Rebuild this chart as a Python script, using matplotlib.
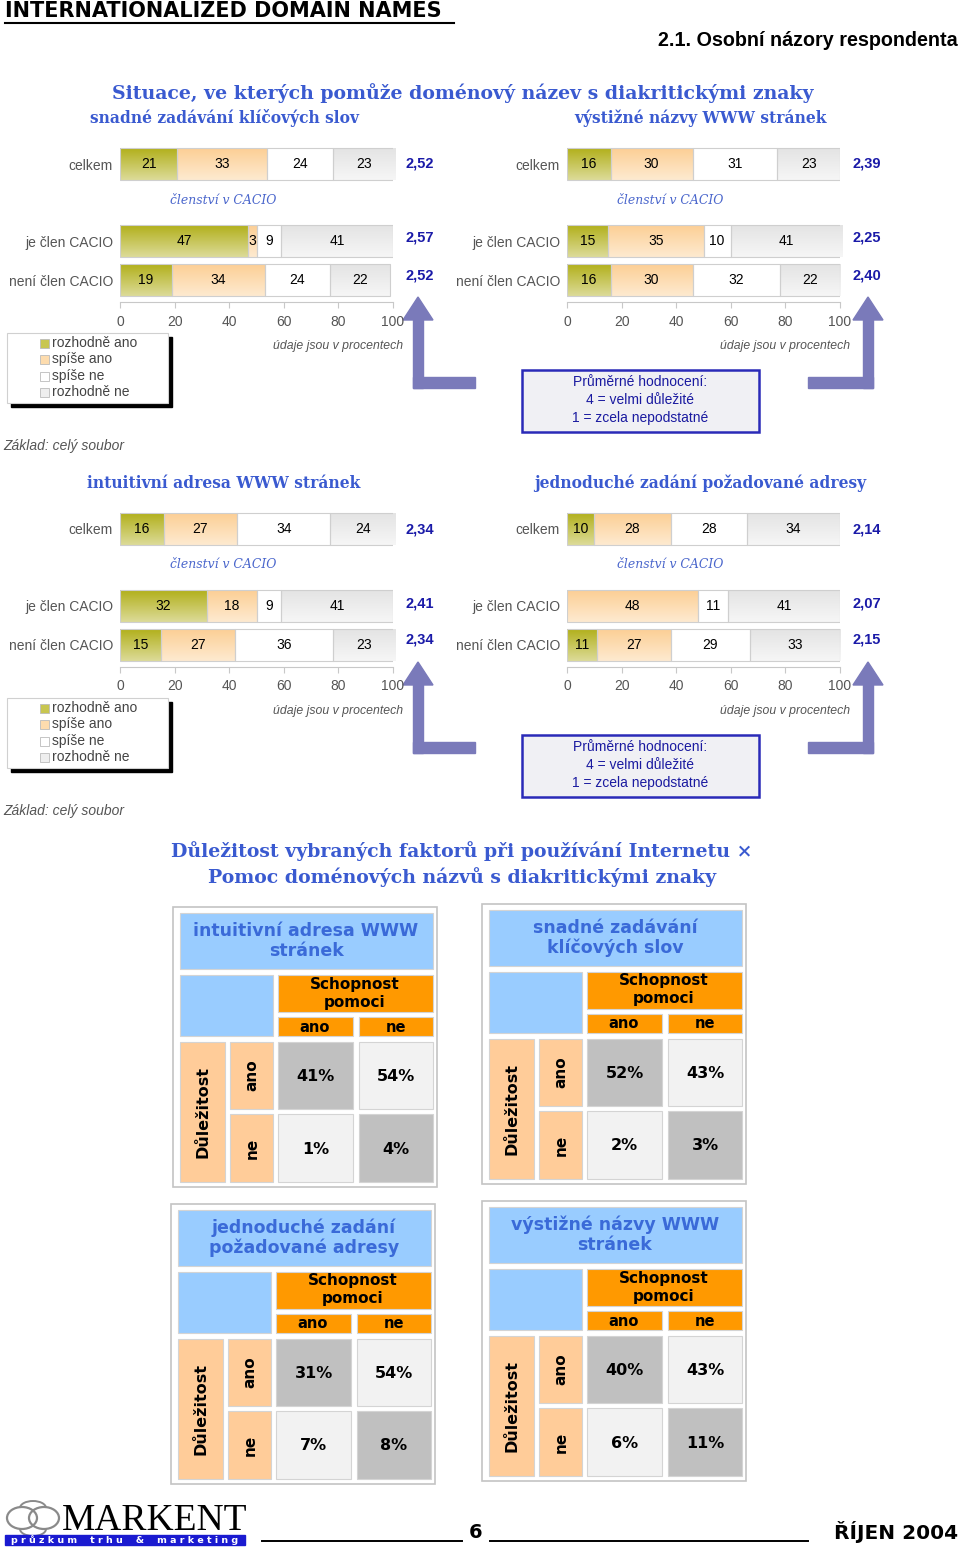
import numpy as np
import matplotlib
matplotlib.use("Agg")
import matplotlib.pyplot as plt
from matplotlib.patches import Rectangle, Polygon, Ellipse, Arc
from matplotlib.colors import LinearSegmentedColormap

# ---------------- data ----------------
categories = ["rozhodně ano", "spíše ano", "spíše ne", "rozhodně ne"]
row_labels = ["celkem", "je člen CACIO", "není člen CACIO"]

chart_titles = ["snadné zadávání klíčových slov", "výstižné názvy WWW stránek",
                "intuitivní adresa WWW stránek", "jednoduché zadání požadované adresy"]

snadne_celkem = [21, 33, 24, 23]
snadne_clen = [47, 3, 9, 41]
snadne_neclen = [19, 34, 24, 22]
snadne_means = ["2,52", "2,57", "2,52"]

vystizne_celkem = [16, 30, 31, 23]
vystizne_clen = [15, 35, 10, 41]
vystizne_neclen = [16, 30, 32, 22]
vystizne_means = ["2,39", "2,25", "2,40"]

intuitivni_celkem = [16, 27, 34, 24]
intuitivni_clen = [32, 18, 9, 41]
intuitivni_neclen = [15, 27, 36, 23]
intuitivni_means = ["2,34", "2,41", "2,34"]

jednoduche_celkem = [10, 28, 28, 34]
jednoduche_clen = [0, 48, 11, 41]
jednoduche_neclen = [11, 27, 29, 33]
jednoduche_means = ["2,14", "2,07", "2,15"]

xticks = [0, 20, 40, 60, 80, 100]

table_titles = [["intuitivní adresa WWW", "stránek"],
                ["snadné zadávání", "klíčových slov"],
                ["jednoduché zadání", "požadované adresy"],
                ["výstižné názvy WWW", "stránek"]]
# [ano/ano, ano/ne, ne/ano, ne/ne]
table_intuitivni = [41, 54, 1, 4]
table_snadne = [52, 43, 2, 3]
table_jednoduche = [31, 54, 7, 8]
table_vystizne = [40, 43, 6, 11]

# ---------------- setup ----------------
W, H = 960, 1552
fig = plt.figure(figsize=(W / 100, H / 100), dpi=100)
fig.patch.set_facecolor("white")
ov = fig.add_axes([0, 0, 1, 1])
ov.set_xlim(0, W)
ov.set_ylim(H, 0)
ov.axis("off")
ov.set_zorder(0)

SANS = "Liberation Sans"
VERD = "DejaVu Sans"
SERIF = "DejaVu Serif"
TITLE_BLUE = "#3a5ad0"
NAVY = "#1a1aa8"
GRAY = "#555555"


def px_axes(x0, y0, x1, y1):
    return fig.add_axes([x0 / W, 1 - y1 / H, (x1 - x0) / W, (y1 - y0) / H])


seg_grad = [("#b2b01c", "#dcdb98"), ("#fccf95", "#feead0"),
            ("#ffffff", "#ffffff"), ("#e4e4e4", "#f6f6f6")]
seg_color = ["#c8c650", "#fddcae", "#ffffff", "#eeeeee"]


def grad_fill(ax, patch, ctop, cbot):
    x, y = patch.get_x(), patch.get_y()
    w, h = patch.get_width(), patch.get_height()
    cmap = LinearSegmentedColormap.from_list("g", [ctop, cbot])
    arr = np.linspace(0, 1, 64).reshape(-1, 1)
    im = ax.imshow(arr, cmap=cmap, extent=(x, x + w, y + h, y), aspect="auto",
                   zorder=patch.get_zorder() - 0.05, interpolation="bilinear")
    im.set_clip_path(patch)


def bar_chart(x0, dy, rows, means, title, title_x):
    ROWY = [24, 101, 140]
    ax = px_axes(x0, 140 + dy, x0 + 273, 302 + dy)
    ax.set_zorder(2)
    ax.patch.set_alpha(0)
    left = np.zeros(3)
    for i in range(4):
        vals = np.array([r[i] for r in rows], dtype=float)
        bars = ax.barh(ROWY, vals, left=left, height=32, color=seg_color[i],
                       edgecolor="#cfcfcf", linewidth=0.8, zorder=3)
        for b, v in zip(bars, vals):
            if v <= 0:
                b.set_visible(False)
                continue
            b.set_facecolor("none")
            grad_fill(ax, b, *seg_grad[i])
            ax.text(b.get_x() + b.get_width() / 2, b.get_y() + b.get_height() / 2,
                    f"{int(v)}", ha="center", va="center", fontsize=10,
                    family=SANS, color="black", zorder=5)
        left += vals
    ax.set_xlim(0, 100)
    ax.set_ylim(162, 0)
    for s in ["top", "right", "left"]:
        ax.spines[s].set_visible(False)
    ax.spines["bottom"].set_color("#c8c8c8")
    ax.set_xticks(xticks)
    ax.set_xticklabels([str(t) for t in xticks], fontsize=10, family=SANS, color=GRAY)
    ax.tick_params(axis="x", colors="#c8c8c8", labelcolor=GRAY, length=4, pad=5)
    ax.set_yticks(ROWY)
    ax.set_yticklabels(row_labels, fontsize=10, family=SANS, color=GRAY)
    ax.tick_params(axis="y", length=0, pad=5)
    # means
    for yy, m in zip([164, 238, 275], means):
        ov.text(x0 + 300, yy + dy, m, ha="center", va="center", fontsize=10.5,
                family=SANS, weight="bold", color=NAVY)
    ov.text(title_x, 118 + dy, title, ha="center", va="center", fontsize=11.2,
            family=SERIF, weight="bold", color=TITLE_BLUE)
    ov.text(x0 + 103, 200 + dy, "členství v CACIO", ha="center", va="center",
            fontsize=8.9, family=SERIF, style="italic", color="#4a66cc")
    ov.text(x0 + 218, 346 + dy, "údaje jsou v procentech", ha="center", va="center",
            fontsize=8.8, family=SANS, style="italic", color=GRAY)


def arrow(shaft_x, arm_to, dy):
    col = "#7a7aba"
    sw = 10
    top = 297 + dy
    head_base = 320 + dy
    bottom = 388 + dy
    ov.add_patch(Polygon([[shaft_x - 10, head_base], [shaft_x + sw / 2, top],
                          [shaft_x + sw + 10, head_base]],
                         closed=True, color=col, zorder=3))
    ov.add_patch(Rectangle((shaft_x, head_base - 1), sw, bottom - head_base + 1,
                           color=col, zorder=3))
    if arm_to > shaft_x:
        ov.add_patch(Rectangle((shaft_x, bottom - 11), arm_to - shaft_x, 11,
                               color=col, zorder=3))
    else:
        ov.add_patch(Rectangle((arm_to, bottom - 11), shaft_x + sw - arm_to, 11,
                               color=col, zorder=3))


def legend_box(dy):
    ov.add_patch(Rectangle((11, 337 + dy), 161, 70, color="black", zorder=2))
    ov.add_patch(Rectangle((7, 333 + dy), 161, 70, facecolor="white",
                           edgecolor="#d0d0d0", lw=0.8, zorder=3))
    for k, (name, c) in enumerate(zip(categories, seg_color)):
        yy = [343, 359, 376, 392][k] + dy
        ov.add_patch(Rectangle((40, yy - 4.5), 9, 9, facecolor=c,
                               edgecolor="#bbbbbb", lw=0.6, zorder=4))
        ov.text(52, yy, name, ha="left", va="center", fontsize=10, family=SANS,
                color="#444444", zorder=5)


def info_box(dy):
    ov.add_patch(Rectangle((522, 370 + dy), 237, 62, facecolor="#f0f0f4",
                           edgecolor="#2a2ab8", lw=1.8, zorder=3))
    for yy, t in zip([382, 400, 418], ["Průměrné hodnocení:", "4 = velmi důležité",
                                        "1 = zcela nepodstatné"]):
        ov.text(640, yy + dy, t, ha="center", va="center", fontsize=10,
                family=SANS, color="#1a1aa0", zorder=4)


# ---------------- header ----------------
ov.text(5, 11, "INTERNATIONALIZED DOMAIN NAMES", ha="left", va="center",
        fontsize=15, family=VERD, weight="bold", color="black")
ov.plot([5, 454], [23, 23], color="black", lw=1.5)
ov.text(958, 41, "2.1. Osobní názory respondenta", ha="right", va="center",
        fontsize=14.2, family=SANS, weight="bold", color="black")
ov.text(463, 93, "Situace, ve kterých pomůže doménový název s diakritickými znaky",
        ha="center", va="center", fontsize=13.6, family=SERIF, weight="bold",
        color=TITLE_BLUE)

blocks = [
    (0, 120, [snadne_celkem, snadne_clen, snadne_neclen], snadne_means, chart_titles[0], 224),
    (0, 567, [vystizne_celkem, vystizne_clen, vystizne_neclen], vystizne_means, chart_titles[1], 700),
    (365, 120, [intuitivni_celkem, intuitivni_clen, intuitivni_neclen], intuitivni_means, chart_titles[2], 224),
    (365, 567, [jednoduche_celkem, jednoduche_clen, jednoduche_neclen], jednoduche_means, chart_titles[3], 700),
]
for dy, x0, rows, means, title, tx in blocks:
    bar_chart(x0, dy, rows, means, title, tx)

for dy in [0, 365]:
    legend_box(dy)
    info_box(dy)
    arrow(413, 475, dy)
    arrow(863, 808, dy)
    ov.text(3, 446 + dy, "Základ: celý soubor", ha="left", va="center", fontsize=10,
            family=SANS, style="italic", color=GRAY)

# ---------------- second title ----------------
ov.text(462, 851, "Důležitost vybraných faktorů při používání Internetu ×",
        ha="center", va="center", fontsize=13.6, family=SERIF, weight="bold",
        color=TITLE_BLUE)
ov.text(462, 877, "Pomoc doménových názvů s diakritickými znaky",
        ha="center", va="center", fontsize=13.6, family=SERIF, weight="bold",
        color=TITLE_BLUE)


# ---------------- tables ----------------
def cell(x0, y0, x1, y1, fc):
    ov.add_patch(Rectangle((x0, y0), x1 - x0, y1 - y0, facecolor=fc,
                           edgecolor="#d4d4d4", lw=0.8, zorder=3))


def draw_table(x0, y0, title, vals):
    ov.add_patch(Rectangle((x0 - 7, y0 - 6), 264, 280, facecolor="white",
                           edgecolor="#c4c4c4", lw=1.2, zorder=2))
    cell(x0, y0, x0 + 253, y0 + 56, "#99ccff")
    cell(x0, y0 + 62, x0 + 93, y0 + 123, "#99ccff")
    cell(x0 + 98, y0 + 62, x0 + 253, y0 + 99, "#ff9900")
    cell(x0 + 98, y0 + 104, x0 + 173, y0 + 123, "#ff9900")
    cell(x0 + 179, y0 + 104, x0 + 253, y0 + 123, "#ff9900")
    cell(x0, y0 + 129, x0 + 45, y0 + 269, "#ffcc99")
    cell(x0 + 50, y0 + 129, x0 + 93, y0 + 196, "#ffcc99")
    cell(x0 + 50, y0 + 201, x0 + 93, y0 + 269, "#ffcc99")
    cols = [(x0 + 98, x0 + 173), (x0 + 179, x0 + 253)]
    rws = [(y0 + 129, y0 + 196), (y0 + 201, y0 + 269)]
    k = 0
    for ri, (ya, yb) in enumerate(rws):
        for ci, (xa, xb) in enumerate(cols):
            fc = "#c0c0c0" if ri == ci else "#f2f2f2"
            cell(xa, ya, xb, yb, fc)
            ov.text((xa + xb) / 2, (ya + yb) / 2 + 1, f"{vals[k]}%", ha="center",
                    va="center", fontsize=11.5, family=VERD, weight="bold",
                    color="black", zorder=5)
            k += 1
    ov.text(x0 + 126, y0 + 18, title[0], ha="center", va="center", fontsize=12.5,
            family=VERD, weight="bold", color="#3a6ad8", zorder=5)
    ov.text(x0 + 126, y0 + 38, title[1], ha="center", va="center", fontsize=12.5,
            family=VERD, weight="bold", color="#3a6ad8", zorder=5)
    ov.text(x0 + 175, y0 + 71, "Schopnost", ha="center", va="center", fontsize=11,
            family=VERD, weight="bold", color="black", zorder=5)
    ov.text(x0 + 175, y0 + 89, "pomoci", ha="center", va="center", fontsize=11,
            family=VERD, weight="bold", color="black", zorder=5)
    ov.text(x0 + 135, y0 + 114, "ano", ha="center", va="center", fontsize=10.5,
            family=VERD, weight="bold", color="black", zorder=5)
    ov.text(x0 + 216, y0 + 114, "ne", ha="center", va="center", fontsize=10.5,
            family=VERD, weight="bold", color="black", zorder=5)
    ov.text(x0 + 23, y0 + 199, "Důležitost", ha="center", va="center", fontsize=11.5,
            family=VERD, weight="bold", color="black", rotation=90, zorder=5)
    ov.text(x0 + 72, y0 + 162, "ano", ha="center", va="center", fontsize=11,
            family=VERD, weight="bold", color="black", rotation=90, zorder=5)
    ov.text(x0 + 72, y0 + 235, "ne", ha="center", va="center", fontsize=11,
            family=VERD, weight="bold", color="black", rotation=90, zorder=5)


draw_table(180, 913, table_titles[0], table_intuitivni)
draw_table(489, 910, table_titles[1], table_snadne)
draw_table(178, 1210, table_titles[2], table_jednoduche)
draw_table(489, 1207, table_titles[3], table_vystizne)

# ---------------- footer ----------------
for cx in [22, 44]:
    ov.add_patch(Ellipse((cx, 1518), 30, 22, fill=False, edgecolor="#8a8a8a",
                         lw=1.6, zorder=3))
ov.add_patch(Arc((33, 1508), 26, 14, theta1=180, theta2=360, edgecolor="#8a8a8a",
                 lw=1.4, zorder=3))
ov.add_patch(Arc((33, 1529), 26, 14, theta1=0, theta2=180, edgecolor="#8a8a8a",
                 lw=1.4, zorder=3))
ov.text(62, 1521, "MARKENT", ha="left", va="center", fontsize=27,
        family="Liberation Serif", color="black")
ov.add_patch(Rectangle((5, 1535), 240, 10, color="#1a1ad0", zorder=3))
ov.text(125, 1540.5, "p r ů z k u m    t r h u    &    m a r k e t i n g",
        ha="center", va="center", fontsize=6.8, family=VERD, weight="bold",
        color="white", zorder=4)
ov.plot([262, 462], [1541, 1541], color="black", lw=1.4)
ov.plot([490, 808], [1541, 1541], color="black", lw=1.4)
ov.text(476, 1532, "6", ha="center", va="center", fontsize=14, family=VERD,
        weight="bold", color="black")
ov.text(958, 1532, "ŘÍJEN 2004", ha="right", va="center", fontsize=14.5,
        family=VERD, weight="bold", color="black")

fig.savefig("out.png", dpi=100, facecolor="white")
